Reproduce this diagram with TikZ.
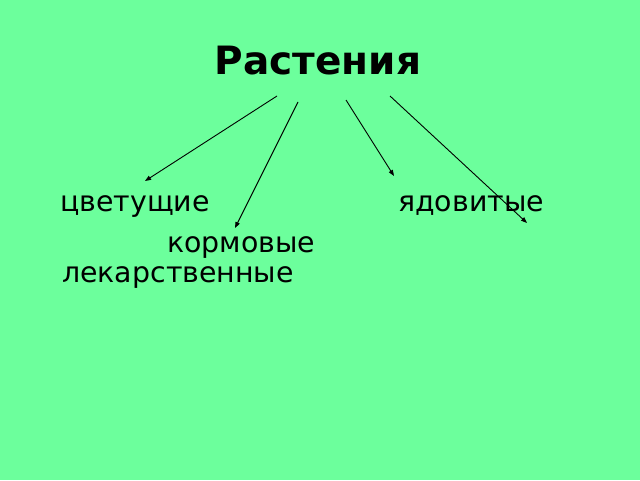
\documentclass[tikz,border=0pt]{standalone}
\usepackage{fontspec}
\setmainfont{DejaVu Sans}
\usetikzlibrary{arrows.meta}
\begin{document}
\begin{tikzpicture}[x=1pt,y=1pt,
  lbl/.style={anchor=base west,inner sep=0pt,font=\fontsize{28.4}{30}\selectfont},
  arr/.style={draw=black,line width=0.9pt,-{Triangle[length=6pt,width=4.5pt]}}]
\fill[fill={rgb,255:red,108;green,255;blue,156}] (0,0) rectangle (640,480);
\useasboundingbox (0,0) rectangle (640,480);
\node[anchor=base,inner sep=0pt,font=\bfseries\fontsize{39}{41}\selectfont] (title) at (318,405) {Растения};
\node[lbl] (flower) at (60,268) {цветущие};
\node[lbl] (poison) at (398,268) {ядовитые};
\node[lbl] (fodder) at (167,228) {кормовые};
\node[lbl] (medic) at (62,197) {лекарственные};
\coordinate (s1) at (277,384);
\coordinate (e1) at (145,299);
\coordinate (s2) at (298,378);
\coordinate (e2) at (235,252);
\coordinate (s3) at (346,380);
\coordinate (e3) at (394,304);
\coordinate (s4) at (390,384);
\coordinate (e4) at (527,257);
\draw[arr] (s1) -- (e1);
\draw[arr] (s2) -- (e2);
\draw[arr] (s3) -- (e3);
\draw[arr] (s4) -- (e4);
\end{tikzpicture}
\end{document}
